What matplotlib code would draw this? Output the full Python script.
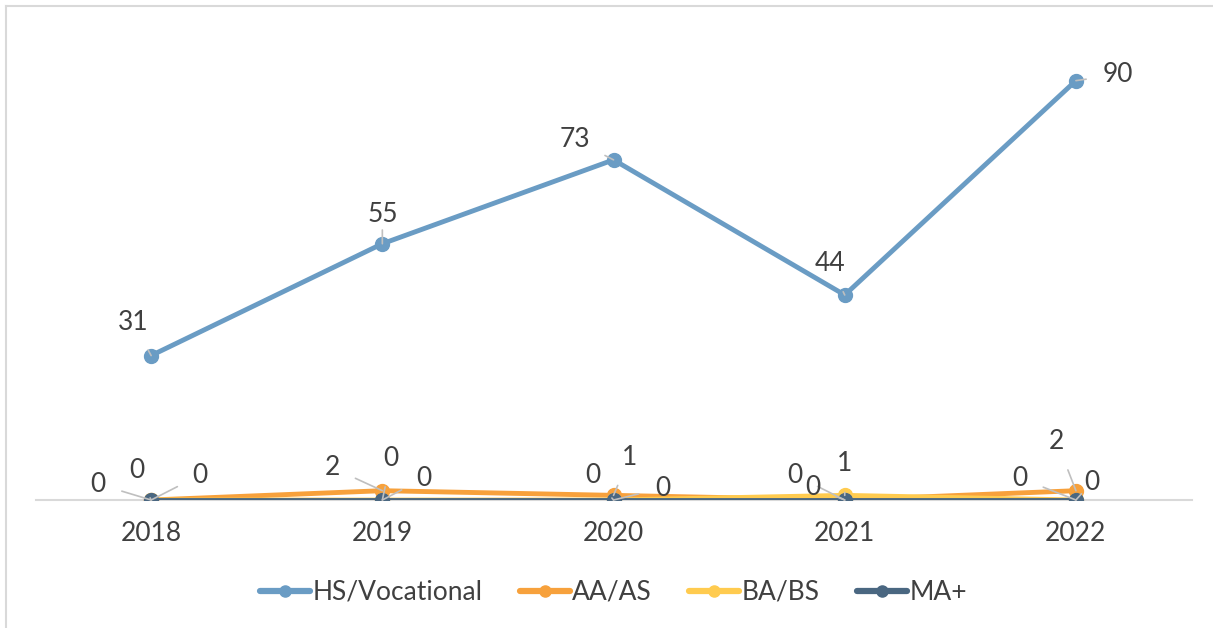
import matplotlib.pyplot as plt
from matplotlib.lines import Line2D

plt.rcParams['font.family'] = ['Lato', 'DejaVu Sans']

years = ['2018', '2019', '2020', '2021', '2022']
hs_voc = [31, 55, 73, 44, 90]
aa_as = [0, 2, 1, 0, 2]
ba_bs = [0, 0, 0, 1, 0]
ma_plus = [0, 0, 0, 0, 0]

series = [('HS/Vocational', hs_voc, '#6a9cc4'),
          ('AA/AS', aa_as, '#f7a13c'),
          ('BA/BS', ba_bs, '#ffcb4f'),
          ('MA+', ma_plus, '#4a6781')]

# label offsets in pixels (dx, dy) per series, per year
offsets = {
    'HS/Vocational': [(-18, 33), (0, 29), (-39, 20), (-15, 31), (42, 6)],
    'AA/AS': [(-53, 16), (-50, 23), (16, 38), (-50, 25), (-19, 49)],
    'BA/BS': [(-14, 30), (9, 42), (-21, 25), (0, 32), (-56, 22)],
    'MA+': [(49, 25), (42, 22), (49, 12), (-32, 13), (16, 18)],
}

txt = '#404040'
fs = 19
fig = plt.figure(figsize=(12.13, 6.28), dpi=100)
ax = fig.add_axes([0.0293, 0.2038, 0.953, 0.742])
x = list(range(len(years)))

for name, vals, col in series:
    ax.plot(x, vals, color=col, lw=3.5, marker='o', ms=10, label=name,
            solid_capstyle='round', zorder=3)
    for i, v in enumerate(vals):
        dx, dy = offsets[name][i]
        ax.annotate(str(v), (i, v), xytext=(dx, dy), textcoords='offset pixels',
                    ha='center', va='center', fontsize=fs, color=txt,
                    arrowprops=dict(arrowstyle='-', color='#bfbfbf', lw=1.2,
                                    shrinkA=10, shrinkB=0), zorder=5)

ax.set_xlim(-0.5, len(years) - 0.5)
ax.set_ylim(0, 100)
ax.set_xticks(x)
ax.set_xticklabels(years, fontsize=fs, color=txt)
ax.tick_params(axis='x', length=0, pad=15)
ax.set_yticks([])
for s in ['top', 'right', 'left']:
    ax.spines[s].set_visible(False)
ax.spines['bottom'].set_color('#d9d9d9')
ax.spines['bottom'].set_linewidth(1.5)
ax.spines['bottom'].set_zorder(1)

leg = ax.legend(loc='center', bbox_to_anchor=(0.5, -0.198), ncol=4, frameon=False,
                fontsize=fs, handlelength=1.9, columnspacing=1.4, handletextpad=0.1,
                markerscale=0.8)
for t in leg.get_texts():
    t.set_color(txt)
for h in leg.get_lines():
    h.set_linewidth(4.5)

# chart area border (top and left visible)
fig.add_artist(Line2D([6 / 1213, 1], [1 - 6 / 628, 1 - 6 / 628], color='#d9d9d9', lw=1.5))
fig.add_artist(Line2D([6 / 1213, 6 / 1213], [0, 1 - 6 / 628], color='#d9d9d9', lw=1.5))

plt.savefig('out.png', dpi=100)
